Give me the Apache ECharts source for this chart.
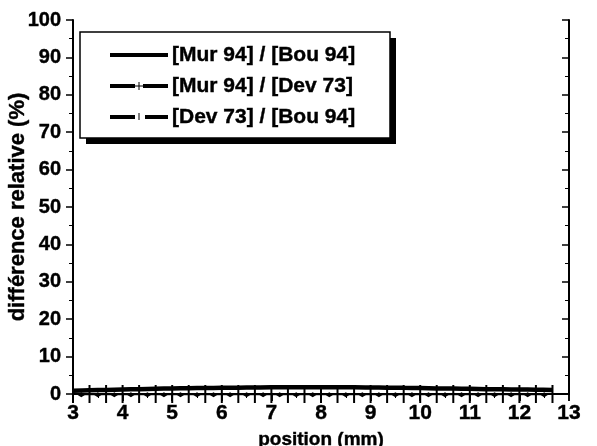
<!DOCTYPE html>
<html>
<head>
<meta charset="utf-8">
<script src="https://cdn.jsdelivr.net/npm/echarts@6/dist/echarts.min.js"></script>
<style>html,body{margin:0;padding:0;background:#fff}#c{width:597px;height:446px}</style>
</head>
<body>
<div id="c"></div>
<script>
// Data
const positions = [3.000,3.333,3.667,4.000,4.333,4.667,5.000,5.333,5.667,6.000,6.333,6.667,7.000,7.333,7.667,8.000,8.333,8.667,9.000,9.333,9.667,10.000,10.333,10.667,11.000,11.333,11.667,12.000,12.333,12.667];
const murBou = [0.9,1.0,1.1,1.2,1.3,1.4,1.5,1.55,1.6,1.65,1.7,1.75,1.8,1.8,1.8,1.8,1.8,1.8,1.75,1.7,1.65,1.6,1.5,1.45,1.4,1.3,1.25,1.2,1.15,1.1];
const murDev = [0,0,0,0,0,0,0,0,0,0,0,0,0,0,0,0,0,0,0,0,0,0,0,0,0,0,0,0,0,0];
const devPositions = [3.167,3.5,3.833,4.167,4.5,4.833,5.167,5.5,5.833,6.167,6.5,6.833,7.167,7.5,7.833,8.167,8.5,8.833,9.167,9.5,9.833,10.167,10.5,10.833,11.167,11.5,11.833,12.167,12.5];
const devBou = [-0.2,-0.2,-0.2,-0.2,-0.2,-0.2,-0.2,-0.2,-0.2,-0.2,-0.2,-0.2,-0.2,-0.2,-0.2,-0.2,-0.2,-0.2,-0.2,-0.2,-0.2,-0.2,-0.2,-0.2,-0.2,-0.2,-0.2,-0.2,-0.2];
const seriesNames = ['[Mur 94] / [Bou 94]','[Mur 94] / [Dev 73]','[Dev 73] / [Bou 94]'];
const xTitle = 'position (mm)';
const yTitle = 'différence relative (%)';

const F = '"Liberation Sans", Arial, Helvetica, sans-serif';
const chart = echarts.init(document.getElementById('c'), null, {renderer:'canvas'});
const axisLine = {show:true, lineStyle:{color:'#000', width:2}};
const vbar = 'path://M0,0 L1,0 L1,10 L0,10 Z';
const L = {left:80, top:32, w:310, h:106};
const rows = [55, 86, 117];
const lab = {fontFamily:F, fontWeight:'bold', color:'#000', textBorderColor:'#000', textBorderWidth:0.4};
chart.setOption({
  animation:false,
  backgroundColor:'#fff',
  grid:{left:73, right:28, top:20, bottom:52, containLabel:false, outerBoundsMode:'none'},
  xAxis:[{
    type:'value', min:3, max:13, interval:1, position:'bottom',
    name:xTitle, nameLocation:'middle', nameGap:36, nameMoveOverlap:false,
    nameTextStyle:Object.assign({fontSize:19}, lab),
    axisLine, axisTick:{show:true, inside:false, length:7, lineStyle:{color:'#000', width:1.5}},
    minorTick:{show:true, splitNumber:2, length:4, lineStyle:{color:'#000', width:1}},
    axisLabel:Object.assign({fontSize:21, margin:9}, lab),
    splitLine:{show:false}
  },{
    type:'value', min:3, max:13, interval:1, position:'top',
    axisLine, axisTick:{show:true, inside:true, length:7, lineStyle:{color:'#000', width:1.5}},
    minorTick:{show:true, splitNumber:2, length:4, lineStyle:{color:'#000', width:1}},
    axisLabel:{show:false}, splitLine:{show:false}
  }],
  yAxis:[{
    type:'value', min:0, max:100, interval:10, position:'left',
    name:yTitle, nameLocation:'middle', nameGap:44, nameMoveOverlap:false,
    nameTextStyle:Object.assign({fontSize:22}, lab),
    axisLine, axisTick:{show:true, inside:false, length:7, lineStyle:{color:'#000', width:1.5}},
    minorTick:{show:true, splitNumber:2, length:4, lineStyle:{color:'#000', width:1}},
    axisLabel:Object.assign({fontSize:20, margin:12}, lab),
    splitLine:{show:false}
  },{
    type:'value', min:0, max:100, interval:10, position:'right',
    axisLine, axisTick:{show:true, inside:true, length:7, lineStyle:{color:'#000', width:1.5}},
    minorTick:{show:true, splitNumber:2, length:4, lineStyle:{color:'#000', width:1}},
    axisLabel:{show:false}, splitLine:{show:false}
  }],
  series:[
    {name:seriesNames[0], type:'line', data:positions.map((x,i)=>[x,murBou[i]]),
     showSymbol:false, symbol:'none', smooth:0.3, lineStyle:{color:'#000', width:4.5}, clip:false, z:5},
    {name:seriesNames[1], type:'line', data:positions.map((x,i)=>[x,murDev[i]]),
     symbol:vbar, symbolSize:[2,18], itemStyle:{color:'#000'}, lineStyle:{color:'#000', width:1.5}, clip:false, z:4},
    {name:seriesNames[2], type:'line', data:devPositions.map((x,i)=>[x,devBou[i]]),
     symbol:'diamond', symbolSize:[8,5], itemStyle:{color:'#000'}, lineStyle:{color:'#000', width:1}, clip:false, z:4}
  ],
  graphic:[
    {type:'rect', shape:{x:L.left+6, y:L.top+6, width:L.w, height:L.h}, style:{fill:'#000'}, z:100},
    {type:'rect', shape:{x:L.left, y:L.top, width:L.w, height:L.h}, style:{fill:'#fff', stroke:'#000', lineWidth:1.5}, z:101},
    {type:'line', shape:{x1:110, y1:rows[0], x2:168, y2:rows[0]}, style:{stroke:'#000', lineWidth:4}, z:102},
    {type:'line', shape:{x1:110, y1:rows[1], x2:135, y2:rows[1]}, style:{stroke:'#000', lineWidth:4}, z:102},
    {type:'line', shape:{x1:143, y1:rows[1], x2:168, y2:rows[1]}, style:{stroke:'#000', lineWidth:4}, z:102},
    {type:'line', shape:{x1:135, y1:rows[1], x2:143, y2:rows[1]}, style:{stroke:'#000', lineWidth:1}, z:102},
    {type:'line', shape:{x1:139, y1:rows[1]-4, x2:139, y2:rows[1]+4}, style:{stroke:'#000', lineWidth:1}, z:102},
    {type:'line', shape:{x1:110, y1:rows[2], x2:135, y2:rows[2]}, style:{stroke:'#000', lineWidth:4}, z:102},
    {type:'line', shape:{x1:145, y1:rows[2], x2:168, y2:rows[2]}, style:{stroke:'#000', lineWidth:4}, z:102},
    {type:'line', shape:{x1:139, y1:rows[2]-4, x2:139, y2:rows[2]+3}, style:{stroke:'#000', lineWidth:1}, z:102},
    {type:'text', x:172, y:rows[0], style:{text:seriesNames[0], font:'bold 21px '+F, fill:'#000', stroke:'#000', lineWidth:0.4, verticalAlign:'middle'}, z:102},
    {type:'text', x:172, y:rows[1], style:{text:seriesNames[1], font:'bold 21px '+F, fill:'#000', stroke:'#000', lineWidth:0.4, verticalAlign:'middle'}, z:102},
    {type:'text', x:172, y:rows[2], style:{text:seriesNames[2], font:'bold 21px '+F, fill:'#000', stroke:'#000', lineWidth:0.4, verticalAlign:'middle'}, z:102}
  ]
});
</script>
</body>
</html>
